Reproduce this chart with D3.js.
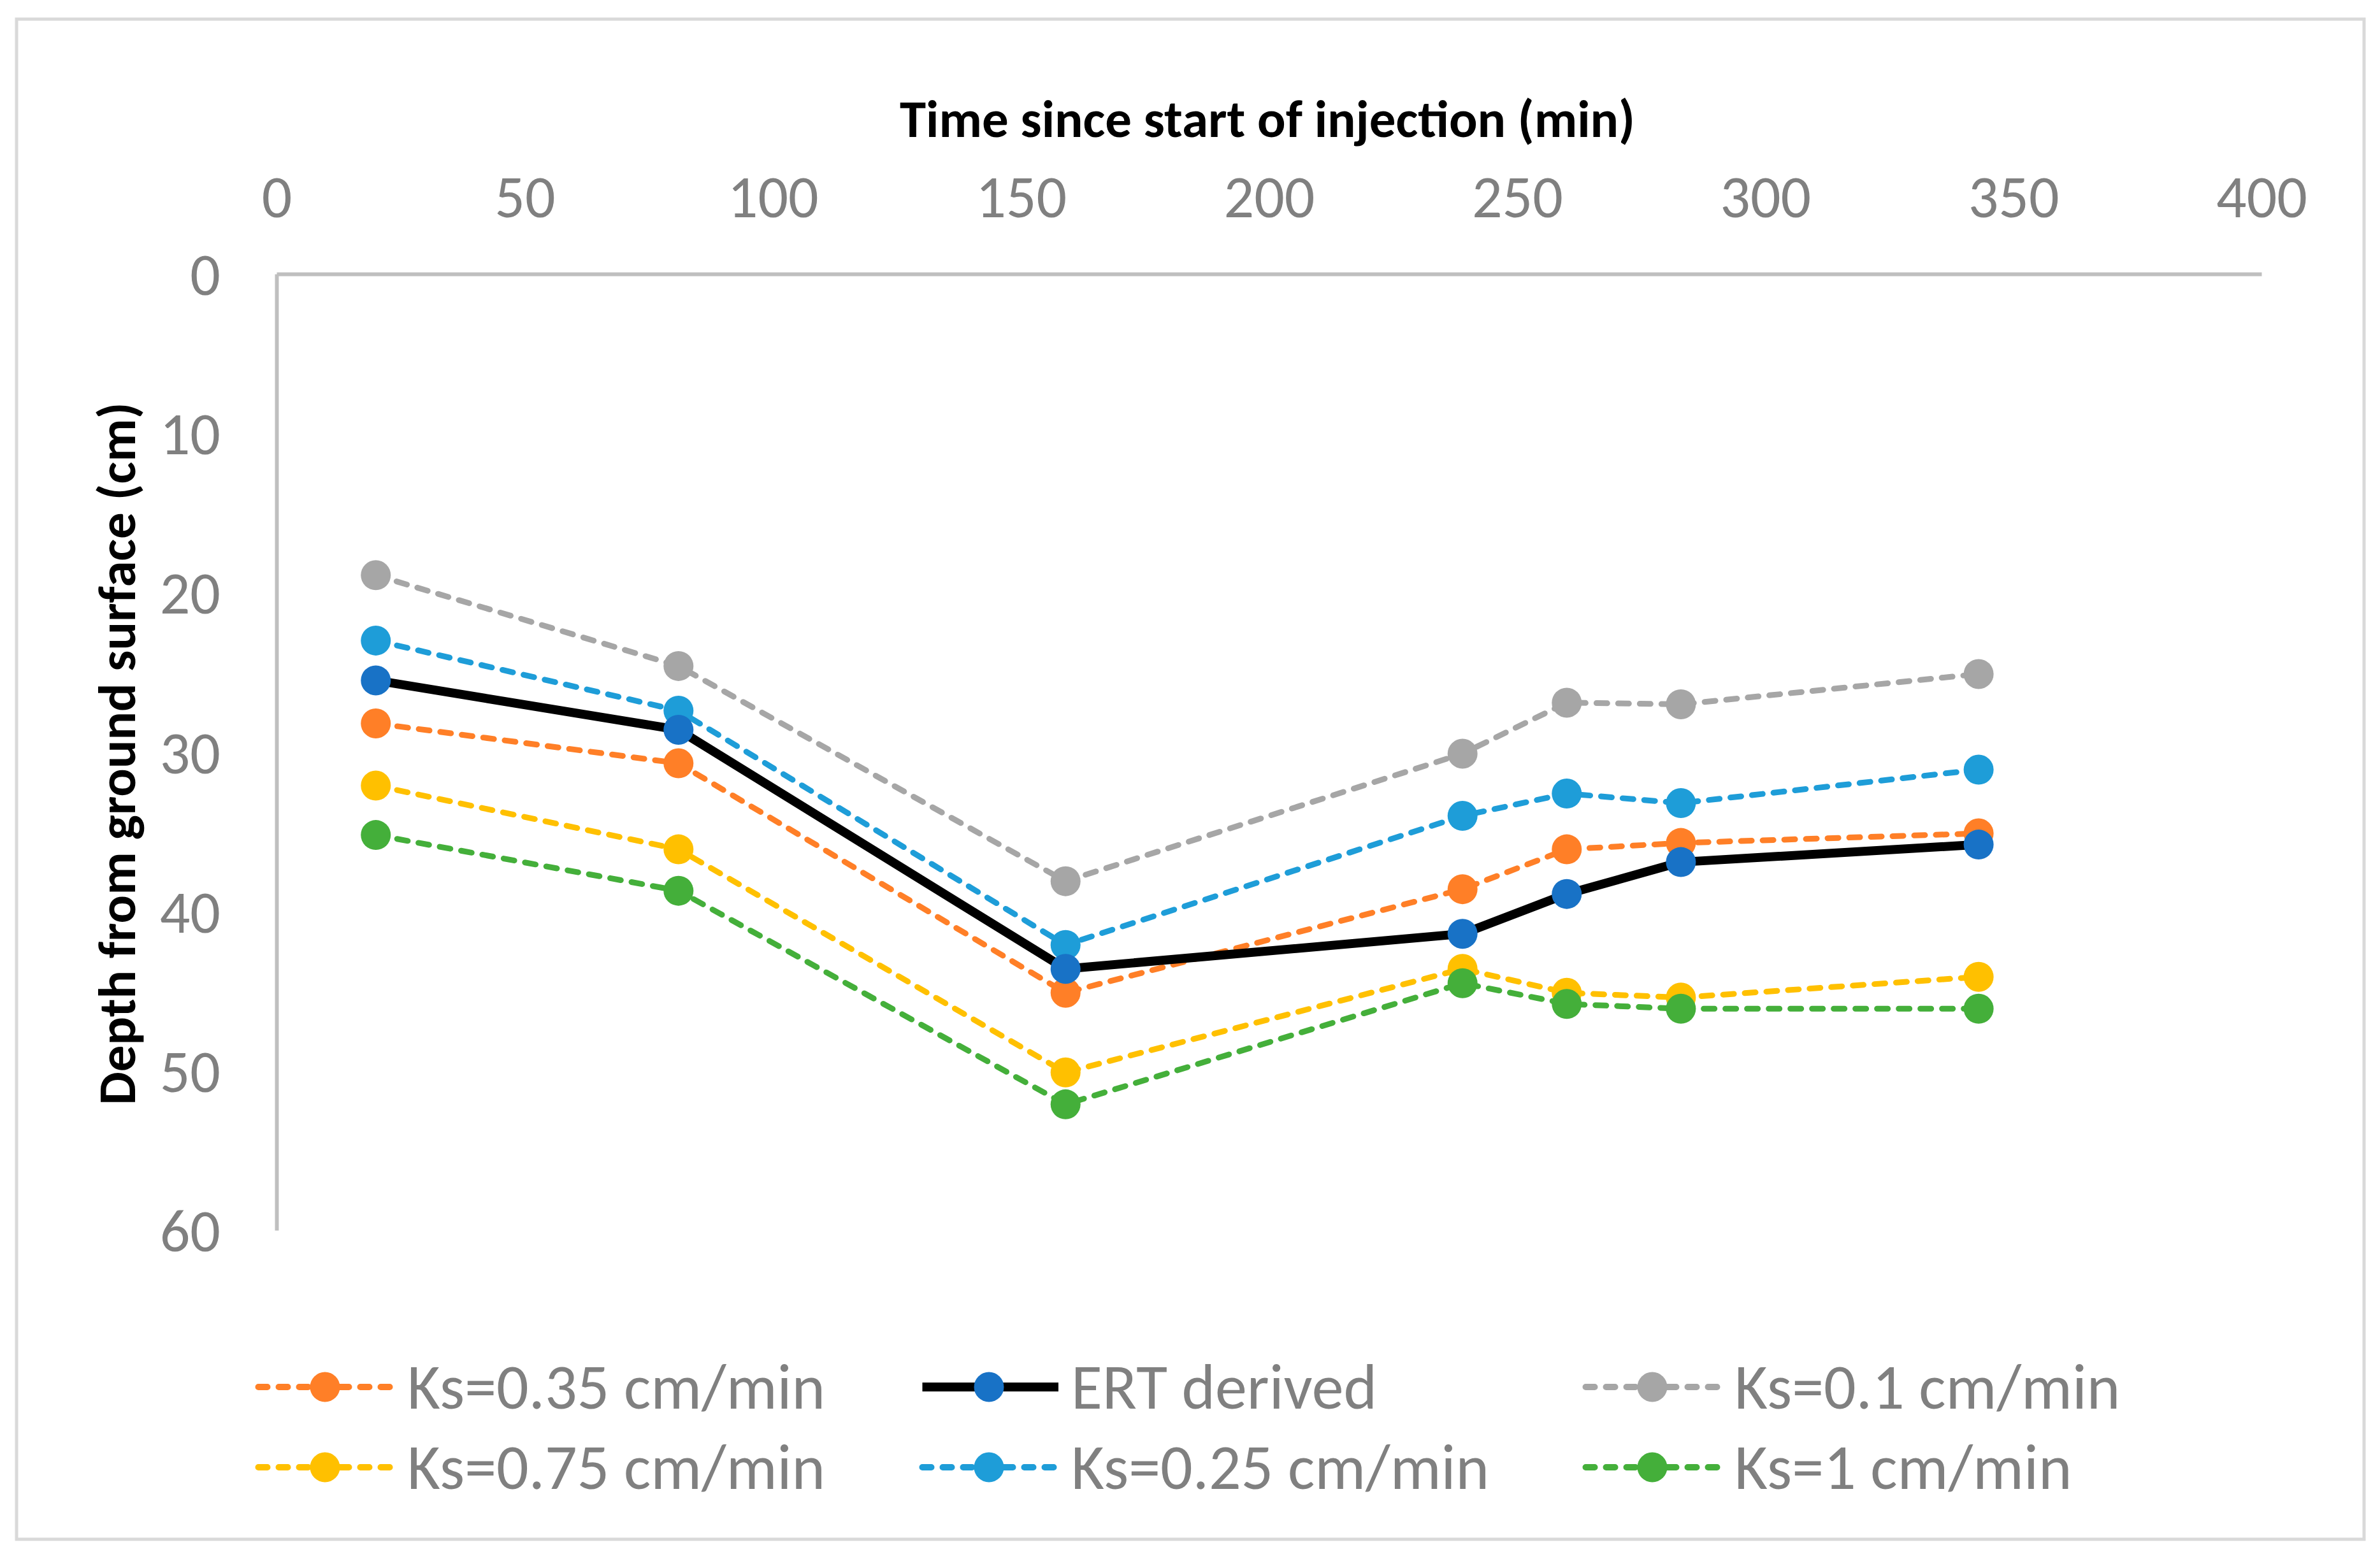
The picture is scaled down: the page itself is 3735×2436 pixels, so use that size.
<!DOCTYPE html>
<html>
<head>
<meta charset="utf-8">
<script src="https://cdn.jsdelivr.net/npm/d3@7"></script>
<style>
  html, body { margin: 0; padding: 0; background: #fff; }
  svg { display: block; }
</style>
</head>
<body>
<svg id="chart" width="3735" height="2436"></svg>
<script>
// ---- data ----
const times = [20, 81, 159, 239, 260, 283, 343];
const ks035 = [28.2, 30.7, 45.1, 38.6, 36.1, 35.7, 35.1];
const ert   = [25.5, 28.6, 43.6, 41.4, 38.9, 36.9, 35.8];
const ks01  = [18.9, 24.6, 38.1, 30.1, 26.9, 27.0, 25.1];
const ks075 = [32.1, 36.1, 50.1, 43.6, 45.1, 45.4, 44.1];
const ks025 = [23.0, 27.4, 42.1, 34.0, 32.6, 33.2, 31.1];
const ks1   = [35.2, 38.7, 52.1, 44.5, 45.8, 46.1, 46.1];
const xTicks = [0, 50, 100, 150, 200, 250, 300, 350, 400];
const yTicks = [0, 10, 20, 30, 40, 50, 60];

const series = [
  { name: "Ks=0.35 cm/min", values: ks035, line: "#FF7F27", marker: "#FF7F27", dashed: true },
  { name: "ERT derived",    values: ert,   line: "#000000", marker: "#1872C6", dashed: false },
  { name: "Ks=0.1 cm/min",  values: ks01,  line: "#A6A6A6", marker: "#A6A6A6", dashed: true },
  { name: "Ks=0.75 cm/min", values: ks075, line: "#FFC000", marker: "#FFC000", dashed: true },
  { name: "Ks=0.25 cm/min", values: ks025, line: "#1E9DD8", marker: "#1E9DD8", dashed: true },
  { name: "Ks=1 cm/min",    values: ks1,   line: "#44AF3A", marker: "#44AF3A", dashed: true }
];
const drawOrder = [0, 2, 3, 4, 5, 1];

const FONT = "Carlito, Calibri, Lato, 'Open Sans', sans-serif";
const svg = d3.select("#chart");

// outer frame
svg.append("rect").attr("x", 26).attr("y", 30).attr("width", 3684).attr("height", 2386)
  .attr("fill", "#fff").attr("stroke", "#D9D9D9").attr("stroke-width", 5);

const x = d3.scaleLinear().domain([0, 400]).range([434, 3549]);
const y = d3.scaleLinear().domain([0, 60]).range([430, 1931]);

// top x axis
const xAxis = svg.append("g").attr("transform", `translate(0,${y(0)})`)
  .call(d3.axisTop(x).tickValues(xTicks).tickSize(0).tickPadding(0));
xAxis.select(".domain").attr("stroke", "#BFBFBF").attr("stroke-width", 6);
xAxis.selectAll("text").attr("y", 0).attr("dy", null)
  .attr("transform", `translate(0,${308 - y(0)})`)
  .attr("dominant-baseline", "central")
  .attr("fill", "#808080").attr("font-size", 94).attr("font-family", FONT);

// left y axis
const yAxis = svg.append("g").attr("transform", `translate(${x(0)},0)`)
  .call(d3.axisLeft(y).tickValues(yTicks).tickSize(0).tickPadding(88));
yAxis.select(".domain").attr("stroke", "#BFBFBF").attr("stroke-width", 6);
yAxis.selectAll("text").attr("dy", null).attr("dominant-baseline", "central")
  .attr("fill", "#808080").attr("font-size", 94).attr("font-family", FONT);

// axis titles
svg.append("text").attr("x", 1989).attr("y", 215).attr("text-anchor", "middle")
  .attr("font-family", FONT).attr("font-weight", "bold").attr("font-size", 83)
  .attr("fill", "#000").text("Time since start of injection (min)");
svg.append("text").attr("transform", "translate(212,1183) rotate(-90)")
  .attr("text-anchor", "middle")
  .attr("font-family", FONT).attr("font-weight", "bold").attr("font-size", 83)
  .attr("fill", "#000").text("Depth from ground surface (cm)");

// lines
const lineGen = d3.line().x((d, i) => x(times[i])).y(d => y(d));
const plot = svg.append("g");
drawOrder.forEach(si => {
  const s = series[si];
  const g = plot.append("g");
  g.append("path").datum(s.values).attr("d", lineGen)
    .attr("fill", "none").attr("stroke", s.line)
    .attr("stroke-width", s.dashed ? 9 : 14)
    .attr("stroke-linecap", "round").attr("stroke-linejoin", "round")
    .attr("stroke-dasharray", s.dashed ? "17,17" : null);
  g.selectAll("circle").data(s.values).join("circle")
    .attr("cx", (d, i) => x(times[i])).attr("cy", d => y(d))
    .attr("r", 23.5).attr("fill", s.marker);
});

// legend
const legCols = [401, 1443, 2484];
const legRows = [2177, 2303];
const leg = svg.append("g");
series.forEach((s, i) => {
  const lx = legCols[i % 3], ly = legRows[Math.floor(i / 3)];
  const g = leg.append("g");
  g.append("line").attr("x1", lx + 4.5).attr("x2", lx + 218).attr("y1", ly).attr("y2", ly)
    .attr("stroke", s.line).attr("stroke-width", s.dashed ? 10 : 14)
    .attr("stroke-linecap", s.dashed ? "round" : "butt")
    .attr("stroke-dasharray", s.dashed ? "14,18" : null);
  g.append("circle").attr("cx", lx + 109).attr("cy", ly).attr("r", 23.5).attr("fill", s.marker);
  g.append("text").attr("x", lx + 238).attr("y", ly).attr("dominant-baseline", "central")
    .attr("font-family", FONT).attr("font-size", 100).attr("fill", "#808080").text(s.name);
});
</script>
</body>
</html>
